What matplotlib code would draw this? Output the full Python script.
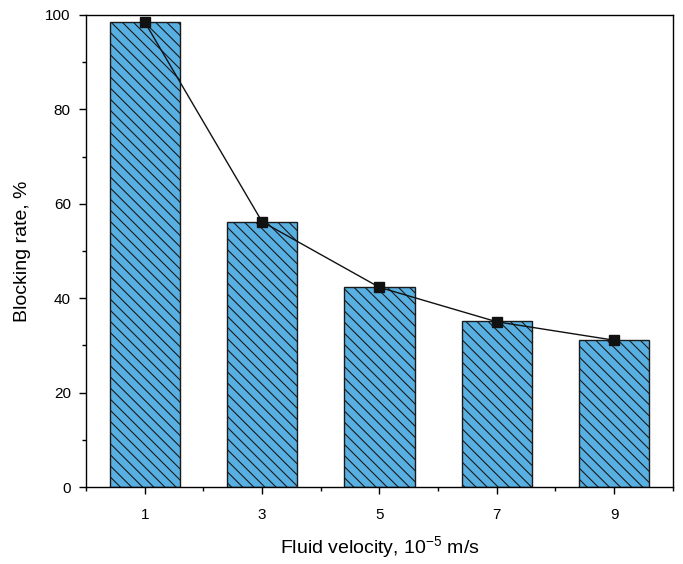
import matplotlib

matplotlib.use("Agg")
import matplotlib.pyplot as plt
from matplotlib.ticker import MultipleLocator

plt.rcParams["font.family"] = ["Liberation Sans", "DejaVu Sans"]
plt.rcParams["mathtext.fontset"] = "custom"
plt.rcParams["mathtext.rm"] = "Liberation Sans"
plt.rcParams["mathtext.default"] = "rm"
plt.rcParams["hatch.linewidth"] = 0.8

velocity = [1, 3, 5, 7, 9]
blocking_bar = [98.5, 56.1, 42.3, 35.1, 31.1]
blocking_pts = [98.5, 56.2, 42.3, 35.0, 31.1]

fig = plt.figure(figsize=(6.83, 5.64), dpi=100)
ax = fig.add_axes([0.126, 0.1365, 0.859, 0.837])

ax.bar(velocity, blocking_bar, width=1.2, color="#58b0e2", edgecolor="#1a1a1a",
       linewidth=1.0, hatch="\\\\\\", zorder=2)
ax.plot(velocity, blocking_pts, color="#111111", linewidth=1.0, marker="s",
        markersize=7, markerfacecolor="#111111", zorder=3)

ax.set_xlim(0, 10)
ax.set_ylim(0, 100)
ax.set_xticks(velocity)
ax.xaxis.set_minor_locator(MultipleLocator(2))
ax.yaxis.set_major_locator(MultipleLocator(20))
ax.yaxis.set_minor_locator(MultipleLocator(10))
ax.tick_params(which="major", length=5, width=1, labelsize=11, pad=6)
ax.tick_params(which="minor", length=3, width=1)
ax.tick_params(axis="x", pad=10)
for s in ax.spines.values():
    s.set_linewidth(1.0)

ax.set_xlabel("Fluid velocity, 10$^{\u22125}$ m/s", fontsize=14, labelpad=9)
ax.set_ylabel("Blocking rate, %", fontsize=14, labelpad=10)

fig.savefig("out.png", dpi=100)
